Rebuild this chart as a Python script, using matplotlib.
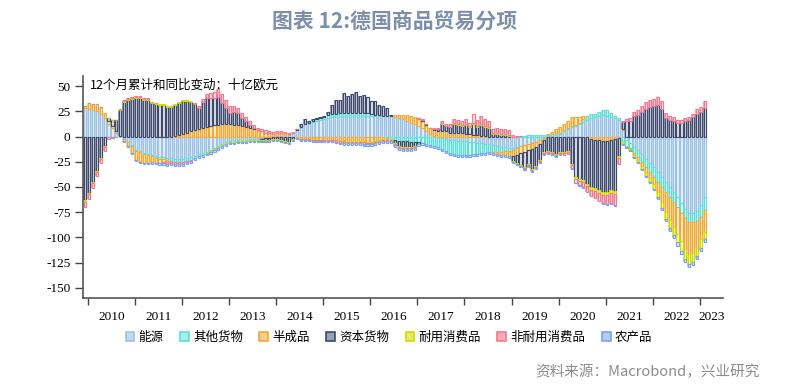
import numpy as np
import pandas as pd
import matplotlib
matplotlib.use("Agg")
import matplotlib.pyplot as plt
from matplotlib.patches import Patch

plt.rcParams['font.family'] = ['Noto Sans CJK SC', 'DejaVu Sans']
plt.rcParams['axes.unicode_minus'] = False

# monthly data, Dec 2009 .. Feb 2023 (12m cumulative, yoy change, bn EUR)
months = pd.period_range('2009-12', '2023-02', freq='M')

energy = [
    28,
    27, 26, 25, 22, 18, 12, 8, 4, 1, -2, -5, -8,
    -13, -14, -16, -17, -18, -19, -20, -20, -21, -21, -22, -22,
    -22, -21, -20, -19, -17, -16, -15, -13, -11, -9, -7, -5.5,
    -4.5, -4, -3.5, -3, -3, -2.5, -2, -2, -1.5, -1, -1, -0.5,
    0.5, 1, 1.5, 2, 4, 6, 9, 12, 12, 14, 15, 16,
    17, 18, 19, 19, 20, 20, 20, 20, 20, 20, 20, 20,
    20, 20, 20, 20, 20, 20, 19, 18, 17, 15, 13, 12,
    10, 8, 5, 3, 1, 0, -1, -2, -3, -3, -4, -4,
    -4, -5, -5, -6, -6, -7, -7, -8, -9, -10, -10, -11,
    -11, -10, -9, -8, -7, -6, -5, -3, -1, 0, 1, 2,
    3, 5, 7, 9, 10, 12, 14, 16, 18, 19, 20, 21,
    20, 19, 18, 16, 6, -3, -6, -10, -13, -17, -22, -26,
    -30, -35, -40, -45, -50, -55, -60, -66, -72, -76, -76, -74,
    -68, -60,
]
other = [
    0,
    0, 0, 0, 0, 0, 0, 0, 0, 0, 0, 0, -1,
    -1, -1, -1, -1, -1.5, -2, -2, -2, -2.5, -3, -3, -3,
    -3, -3, -3, -2.5, -2.5, -2, -1.5, -1.5, -1.5, -1.5, -1.5, -1,
    -1, -1, -1, -1, -1, -1, -1, -1, -0.5, -0.5, -0.5, 0,
    0, 0, 0, 0, 0, 0, 0, 0.5, 1, 1, 2, 2,
    2.5, 3, 3, 3, 3, 3, 3, 3, 3, 3, 3, 3,
    2, 1.5, 1, 0, -1, -2, -3, -4, -4, -4, -5, -5,
    -5, -6, -7, -8, -9, -10, -11, -12, -13, -14, -14, -14,
    -14, -13, -12, -11, -10, -9, -8, -7, -6, -5, -4, -3,
    -2, -1, 0.5, 1, 1.5, 2, 2, 2, 2, 1.5, 1.5, 1.5,
    1, 1, 1, 1, 1, 1, 3, 4, 4, 3, 4, 5,
    6, 4, 2, 2, -5, -6, -5, -6, -7, -8, -8, -9,
    -10, -10, -10, -10, -10, -10, -10, -10, -9, -9, -9, -10,
    -12, -13,
]
semi = [
    2,
    6, 6, 7, 7, 5, 3, 2, 1, 0, -2, -4, -7,
    -9, -10, -9, -8, -6, -5, -4, -3, -2, 0, 1, 2,
    3, 4, 5, 6, 7, 8, 9, 10, 11, 11, 12, 12,
    12, 11, 11, 10, 9, 8, 7, 6, 5, 4, 4, 3,
    3, 2.5, 2, 1, 0, -1, -2, -2, -2, -2.5, -2.5, -3,
    -3, -3, -3, -3, -3.5, -3.5, -4, -4, -4, -4, -4.5, -5,
    -5, -4, -3, -2, -1, 0, 2, 3, 4, 6, 7, 7,
    7, 7, 6, 5, 5, 5, 5, 5, 4, 4, 4, 4,
    3, 3, 2, 2, 1, 1, 0, -1, -2, -3, -4, -5,
    -6, -7, -7, -7, -6, -6, -5, -4, -2, 1, 2, 4,
    5, 6, 7, 9, 8, 6, 3, 0, -2, -3, -3, -4,
    -4, -3, -2, -1, 1, 0, -1, -2, -3, -4, -6, -6,
    -7, -10, -15, -20, -23, -25, -27, -28, -30, -31, -30, -26,
    -22, -22,
]
capital = [
    -63,
    -56, -45, -34, -21, -9, 3, 6, 11, 25, 34, 36, 37,
    38, 38, 36, 36, 33, 32, 31, 31, 29, 29, 30, 31,
    32, 31, 29, 26, 21, 26, 29, 28, 27, 28, 21, 16,
    11, 13, 12, 8, 6, 3, 1, 0, -1, -2, -2, -2,
    -2, -3, -4, -5, -2, 1, 3, 4.5, 2, 2, 1, 1,
    0.5, 3, 9, 14, 13, 20, 17, 19, 21.5, 17, 18, 16,
    13, 13.5, 10, 10, 8, 1, -3, -5, -6, -6, -5, -4,
    -2, 1, 1, 0, 1, 2, 7, 5, 5, 8, 7, 6,
    8, 6, 10, 7, 10, 8, 8, 3, 3, 2, 2, 1,
    -5, -8, -12, -15, -14, -20, -19, -16, -12, -14, -15, -17,
    -15, -15, -14, -27, -40, -42, -43, -47, -48, -48, -50, -51,
    -51, -50, -52, -18, 7, 15, 15, 20, 21, 24, 27, 29,
    30, 31, 27, 18, 16, 15, 13, 13, 15, 16, 19, 22,
    24, 28,
]
durable = [
    -1.5,
    -1, -1, -1, -1, -1, 0, 0.5, 0.5, 1, 1, 1, 1,
    1, 1, 1, 1, 1, 1, 1, 1, 1, 1, 1, 1,
    1, 1, 1, 0.5, 0.5, 0, -0.5, -1, -1, -1, -1, -1,
    -1, -1, -1, -1, -1, -1, -1, -1, -1, -1, -1, -1,
    -1, -1, -1, -1, -1, -0.5, -0.5, -0.5, -0.5, -0.5, -0.5, -0.5,
    -0.5, -0.5, -0.5, -0.5, -1, -1, -1, -1, -1, -1, -1, -1,
    -1, -1, -1, -1, -1, -1, -1, -1, -1, -1, -1, -1,
    0, 0, 0, 0, 0.5, 0.5, 1, 0.5, 0.5, 1, 1, 1,
    1, 1, 1, 1, 1, 1, 1, 0.5, 0.5, 0.5, 0.5, 0.5,
    -1, -1, -1, -1, -1, -1, -1, -1, -1, -1, -1, -1,
    -1, -1, -1, -1.5, -2, -2, -2, -2.5, -2.5, -2.5, -2.5, -3,
    -3, -3, -3, -2, -2, -1.5, -1.5, -2, -2, -3, -3, -4,
    -5, -5, -6, -7, -8, -8, -8, -9, -10, -10, -9, -8,
    -8, -7,
]
nondurable = [
    -5,
    -5, -5, -4, -4, -4, -2, -1, 0, 0.5, 1, 1, 1,
    1, 1, 1, 1, 0.5, 0, -0.5, -1, -1.5, -2, -2, -2.5,
    -2, -1.5, -1, 0.5, 2, 3, 4, 5, 6, 8, 9, 8,
    7, 6, 5, 5, 4, 4, 3, 2, 2, 2, 1.5, 1.5,
    1.5, 1.5, 1, 1, 0.5, 0, -0.5, -1, -1, -1, -1, -1,
    -1, -1, -1, -1.5, -1.5, -1.5, -1.5, -1.5, -1.5, -1.5, -1.5, -1.5,
    -1.5, -1.5, -1.5, -1.5, -1.5, -1.5, -1.5, -1.5, -1.5, -1.5, -1.5, -1,
    1, 1, 0, 0, 1, 1, 2, 2, 3, 4, 4, 4,
    5, 3, 9, 6, 8, 7, 6, 4, 5, 5, 5, 5,
    2, 1, 0, -1, -1, -1, -1, -1, -1, -1, -1, -1,
    -1.5, -2, -2, -3, -4, -4.5, -5, -5, -6, -7, -8, -8,
    -9, -10, -11, -6, 1, 2, 3, 4, 5, 6, 7, 7,
    7, 8, 8, 5, 4, 4, 3, 3, 3, 3, 3, 5,
    5, 7,
]
agri = [
    0,
    0, 0, 0, 0, -0.5, -0.5, -0.5, -0.5, -0.5, -1, -1, -1,
    -1, -1, -1.5, -1.5, -1.5, -1.5, -1.5, -2, -2, -2, -2, -2,
    -2, -2, -2, -1.5, -1.5, -2, -1.5, -1.5, -1.5, -1.5, -1.5, -1.5,
    -1, -1, -1, -1, -1, -1, -1, -1, -1, -1, -1, -1,
    -1, -1, -1, -1, -1, -1, -1, -1, -1, -1, -1, -1,
    -1, -1, -1, -1.5, -1.5, -2, -2, -2, -2, -2, -2, -2,
    -2, -2, -2, -2, -2, -2, -2, -2, -2, -2, -2, -2,
    -2, -2, -2, -2, -2, -2, -2, -2, -2, -2, -2, -2,
    -2, -2, -2, -2, -2, -2, -2, -2, -2, -2, -2, -2,
    -1, -1, -1, -1, -1, -1, -1, -1, -1, -1, -1, -1,
    -0.5, -0.5, -0.5, -0.5, -0.5, -0.5, -0.5, -0.5, -0.5, -0.5, -0.5, -0.5,
    -0.5, -0.5, -0.5, -0.5, -1, -0.5, -0.5, -1, -1, -1, -1, -1,
    -1, -1.5, -2, -2, -2.5, -3, -3, -3, -3, -3, -3, -3,
    -3, -3,
]

labels = ['能源', '其他货物', '半成品', '资本货物', '耐用消费品', '非耐用消费品', '农产品']
colors = ['#9dc3e6', '#5fe0d6', '#f5a833', '#3d4a6b', '#cfdc00', '#f5788f', '#7da3ee']
tints = ['#c3d9ef', '#a6efe9', '#fbcf8a', '#98a0b3', '#e3ec66', '#f9acbb', '#b3cbf5']
inner = ['#eaf2fa', '#e2faf8', '#fff0da', '#e4e6ec', '#f6f9d0', '#fde6ea', '#e8effd']
series = [energy, other, semi, capital, durable, nondurable, agri]

x = np.array([p.year + (p.month - 1 + 0.3) / 12 for p in months])

fig = plt.figure(figsize=(7.9, 3.9), dpi=100)
fig.set_facecolor('white')
ax = fig.add_axes([83 / 790, 1 - 298 / 390, 640 / 790, 222 / 390])

pos_base = np.zeros(len(x))
neg_base = np.zeros(len(x))
for vals, c, t, w in zip(series, colors, tints, inner):
    v = np.array(vals, dtype=float)
    assert len(v) == len(x)
    base = np.where(v >= 0, pos_base, neg_base)
    # soft area behind, then outlined bar on top
    ax.bar(x, v, width=1 / 12, bottom=base, color=t, edgecolor='none', zorder=2)
    ax.bar(x, v, width=0.55 / 12, bottom=base, facecolor=w, edgecolor=c,
           linewidth=0.85, zorder=3)
    pos_base += np.clip(v, 0, None)
    neg_base += np.clip(v, None, 0)

ax.set_xlim(2009.9, 2023.49)
ax.set_ylim(-160, 60)
yt = np.arange(-150, 51, 25)
ax.set_yticks(yt)
ax.set_yticklabels([str(v) for v in yt], fontfamily='Liberation Serif', fontsize=9.5)
ax.set_xticks(np.arange(2010, 2024))
ax.set_xticklabels([])
mids = [y + 0.5 for y in range(2010, 2023)] + [2023.25]
ax.set_xticks(mids, minor=True)
ax.set_xticklabels([str(y) for y in range(2010, 2024)], minor=True,
                   fontfamily='Liberation Serif', fontsize=9.5)
ax.tick_params(axis='x', which='major', length=5, width=1, color='#444444')
ax.tick_params(axis='x', which='minor', length=0, pad=9)
ax.tick_params(axis='y', length=6, width=1, color='#444444', pad=3)
for s in ['top', 'right']:
    ax.spines[s].set_visible(False)
for s in ['left', 'bottom']:
    ax.spines[s].set_color('#555555')
    ax.spines[s].set_linewidth(1.2)

ax.text(0.011, 0.958, '12个月累计和同比变动：十亿欧元', transform=ax.transAxes,
        ha='left', va='center', fontsize=9, color='black', zorder=5)

fig.text(0.5, 1 - 21 / 390, '图表 12:德国商品贸易分项', ha='center', va='center',
         fontsize=15, fontweight='bold', color='#7d8fa8')

handles = [Patch(facecolor=t, edgecolor=c, linewidth=1.2) for c, t in zip(colors, tints)]
fig.legend(handles, labels, loc='center', bbox_to_anchor=(389 / 790, 1 - 337 / 390),
           ncol=7, frameon=False, fontsize=9, handlelength=0.7, handleheight=0.7,
           handletextpad=0.35, columnspacing=1.3)

fig.text(760 / 790, 1 - 372 / 390, '资料来源：Macrobond，兴业研究', ha='right', va='center',
         fontsize=10.5, color='#8c8c8c')

plt.savefig('out.png', dpi=100)
